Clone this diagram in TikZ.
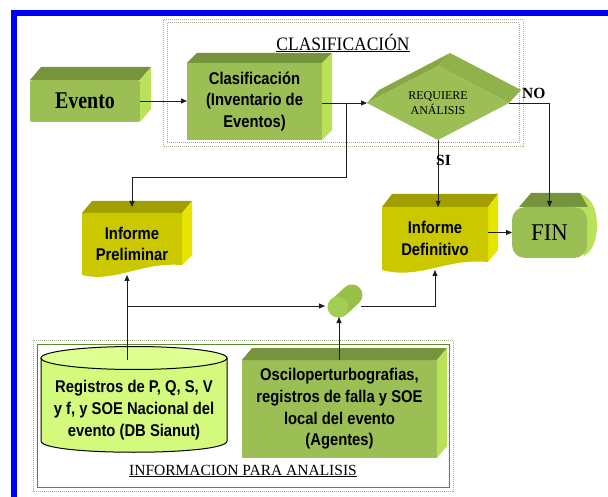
\documentclass[tikz,border=0pt]{standalone}
\usepackage{fontspec}
\setmainfont{Liberation Serif}
\newfontfamily\sansN[FakeStretch=0.87]{Liberation Sans}
\newfontfamily\serifE[FakeStretch=0.83]{Liberation Serif}
\newfontfamily\serifC[FakeStretch=0.92]{Liberation Serif}
\newfontfamily\serifF[FakeStretch=0.95]{Liberation Serif}
\usetikzlibrary{calc,arrows.meta}
\pgfdeclarelayer{bg}
\pgfsetlayers{bg,main}
\definecolor{frameblue}{RGB}{0,0,255}
\definecolor{gfront}{RGB}{155,190,85}
\definecolor{gtop}{RGB}{118,148,60}
\definecolor{gside}{RGB}{185,225,90}
\definecolor{dtopl}{RGB}{135,168,68}
\definecolor{dtopr}{RGB}{145,178,74}
\definecolor{yfront}{RGB}{204,200,0}
\definecolor{ytop}{RGB}{160,158,0}
\definecolor{yside}{RGB}{230,228,0}
\definecolor{dbfill}{RGB}{212,250,125}
\definecolor{dbtop}{RGB}{222,255,145}
\definecolor{tubebody}{RGB}{150,192,70}
\definecolor{tubefront}{RGB}{165,205,85}
\definecolor{dotc}{RGB}{160,178,145}
\definecolor{greenline}{RGB}{90,140,40}
\definecolor{linec}{RGB}{30,30,30}
\newcommand\extrude[5]{%
  \fill[#4] (#1.north west) -- ++(#2,-#3) -- ($(#1.north east)+(#2,-#3)$) -- (#1.north east) -- cycle;
  \fill[#5] (#1.north east) -- ++(#2,-#3) -- ($(#1.south east)+(#2,-#3)$) -- (#1.south east) -- cycle;}
\begin{document}
\begin{tikzpicture}[x=1pt,y=-1pt,
  sanstxt/.style={font=\sansN\bfseries\fontsize{17}{21.5}\selectfont, align=center},
  gbox/.style={fill=gfront, inner sep=0pt, outer sep=0pt, align=center},
  plain/.style={inner sep=0pt, outer sep=0pt, align=center},
  arr/.style={draw=linec, line width=0.8pt, -{Triangle[length=6pt,width=5pt]}},
  dotframe/.style={draw=dotc, line width=1pt, dash pattern=on 1pt off 1pt},
  greenframe/.style={draw=greenline, line width=1pt}]
\useasboundingbox (0,0) rectangle (608,497);
\begin{pgfonlayer}{bg}
\fill[white] (0,0) rectangle (608,497);
\fill[frameblue] (11,10) rectangle (608,16);
\fill[frameblue] (11,10) rectangle (17,497);
\draw[dotframe] (163,20) rectangle (523,147);
\draw[dotframe] (167,23) rectangle (519,143);
\draw[dotframe] (33,340) rectangle (453,491);
\draw[greenframe] (37,344) rectangle (449,487);
\end{pgfonlayer}

% Evento
\node[gbox, rounded corners=2pt, font=\serifE\bfseries\fontsize{24}{28}\selectfont,
      minimum width=110pt, minimum height=42pt] (evento) at (85,101) {Evento};
\extrude{evento}{11}{13}{gtop}{gside}

% Clasificacion
\node[gbox, sanstxt, minimum width=135pt, minimum height=77pt] (clasif) at (254.5,101.5)
  {Clasificación\\(Inventario de\\Eventos)};
\extrude{clasif}{10}{10}{gtop}{gside}

% Requiere analisis (diamond)
\node[plain, minimum width=142pt, minimum height=74pt, font=\fontsize{12}{15.5}\selectfont]
  (req) at (438,103) {\raisebox{-2pt}{\shortstack{REQUIERE\\ANÁLISIS}}};
\begin{pgfonlayer}{bg}
\fill[dtopl] (req.west) -- ($(req.west)+(12,-13)$) -- ($(req.north)+(12,-13)$) -- (req.north) -- cycle;
\fill[dtopr] (req.north) -- ($(req.north)+(12,-13)$) -- ($(req.east)+(12,-13)$) -- (req.east) -- cycle;
\fill[gfront] (req.west) -- (req.north) -- (req.east) -- (req.south) -- cycle;
\end{pgfonlayer}

% Informe Preliminar
\node[plain, sanstxt, minimum width=100pt, minimum height=62pt] (prelim) at (132,244)
  {Informe\\Preliminar};
\begin{pgfonlayer}{bg}
\fill[ytop] (prelim.north west) -- ++(10,-12) -- ($(prelim.north east)+(10,-12)$) -- (prelim.north east) -- cycle;
\fill[yside] (prelim.north east) -- ++(10,-12) -- (192,255) -- (182,265) -- cycle;
\fill[yfront] (82,213) -- (182,213) -- (182,265) .. controls (140,262) and (115,283) .. (82,275) -- cycle;
\end{pgfonlayer}

% Informe Definitivo
\node[plain, sanstxt, minimum width=106pt, minimum height=63pt] (defin) at (435,238.5)
  {Informe\\Definitivo};
\begin{pgfonlayer}{bg}
\fill[ytop] (defin.north west) -- ++(10,-13) -- ($(defin.north east)+(10,-13)$) -- (defin.north east) -- cycle;
\fill[yside] (defin.north east) -- ++(10,-13) -- (498,250) -- (488,262) -- cycle;
\fill[yfront] (382,207) -- (488,207) -- (488,262) .. controls (445,258) and (420,280) .. (382,270) -- cycle;
\end{pgfonlayer}

% FIN
\node[plain, font=\serifF\fontsize{24}{28}\selectfont, minimum width=75pt, minimum height=51pt]
  (fin) at (549.5,232.5) {FIN};
\begin{pgfonlayer}{bg}
\fill[gside] (575,193) .. controls (591,193) and (597,210) .. (597,225)
  .. controls (597,240) and (592,252) .. (584,256) -- cycle;
\fill[gtop] (519,207) -- (531,193) -- (580,193) -- (588,207) -- cycle;
\fill[gfront, rounded corners=13pt] (fin.north west) rectangle (fin.south east);
\end{pgfonlayer}

% small tube
\node[plain, minimum width=36pt, minimum height=22pt] (tube) at (343,306) {};
\begin{pgfonlayer}{bg}
\draw[tubebody, line width=21pt, line cap=round] (339,307) -- (352,295);
\fill[tubefront] (338,307) circle[radius=10.5pt];
\end{pgfonlayer}

% DB Sianut cylinder
\node[plain, sanstxt, font=\sansN\bfseries\fontsize{17}{22}\selectfont, minimum width=186pt]
  (db) at (134,410) {Registros de P, Q, S, V\\y f, y SOE Nacional del\\evento (DB Sianut)};
\begin{pgfonlayer}{bg}
\filldraw[fill=dbfill, draw=black, line width=1pt] (41,358) -- (41,441)
  .. controls (41,456) and (227,456) .. (227,441) -- (227,358) -- cycle;
\filldraw[fill=dbtop, draw=black, line width=1pt] (134,358) ellipse[x radius=93pt, y radius=11.5pt];
\end{pgfonlayer}

% Osciloperturbografias
\node[gbox, sanstxt, font=\sansN\bfseries\fontsize{17}{21.7}\selectfont,
      minimum width=195pt, minimum height=98pt] (oscilo) at (339.5,409)
  {Osciloperturbografias,\\registros de falla y SOE\\local del evento\\(Agentes)};
\extrude{oscilo}{10}{12}{gtop}{gside}

% connectors
\draw[arr] (evento.east) -- (clasif.west |- evento.east);
\draw[arr] (clasif.east |- req.west) -- (req.west);
\coordinate (br) at ($(clasif.east |- req.west)!0.55!(req.west)$);
\draw[arr] (br) -- (br |- 0,177) -| ([yshift=6pt]prelim.north);
\draw[arr] (req.east) -| (fin.north);
\draw[arr] (req.south) -- (req.south |- defin.north);
\draw[arr] (defin.east |- fin.west) -- (fin.west);
\coordinate (dbin) at (127,360);
\draw[arr] (dbin) -- (dbin |- prelim.south);
\draw[arr] (dbin |- tube.west) -- (tube.west);
\draw[arr] (tube.east) -| (defin.south);
\coordinate (osin) at (339,360);
\draw[arr] (osin) -- (osin |- tube.south);

% labels
\node[font=\serifC\fontsize{19}{22}\selectfont] (lclas) at (343,43) {\underline{CLASIFICACIÓN}};
\node[font=\fontsize{15.5}{18}\selectfont] (linfo) at (243,471) {\underline{INFORMACION PARA ANALISIS}};
\node[font=\bfseries\fontsize{15.5}{18}\selectfont, anchor=west, inner sep=0pt] (lno) at (522,93) {NO};
\node[font=\bfseries\fontsize{15.5}{18}\selectfont, anchor=west, inner sep=0pt] (lsi) at (436,160) {SI};
\end{tikzpicture}
\end{document}
